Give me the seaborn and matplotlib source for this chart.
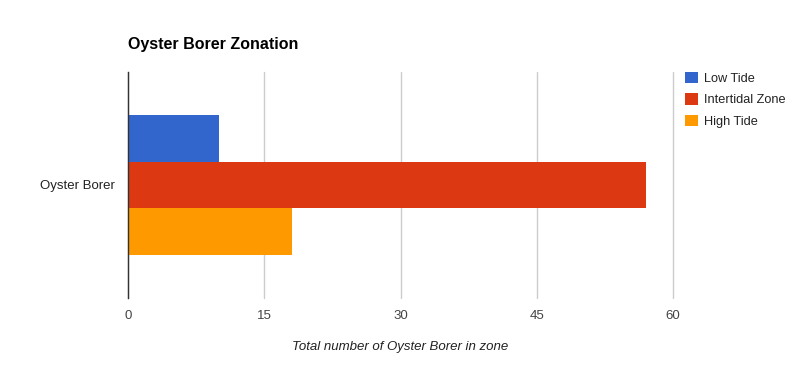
import matplotlib
matplotlib.use("Agg")
import matplotlib.pyplot as plt
import seaborn as sns
import pandas as pd
from matplotlib.patches import Patch

categories = ["Oyster Borer"]
series = ["Low Tide", "Intertidal Zone", "High Tide"]
values = [10, 57, 18]
colors = ["#3366cc", "#dc3912", "#ff9900"]
xticks = [0, 15, 30, 45, 60]

sns.set_style("white")
plt.rcParams["font.family"] = ["Liberation Sans", "DejaVu Sans"]

df = pd.DataFrame({"category": categories * len(series), "series": series, "value": values})

fig = plt.figure(figsize=(8, 3.71), dpi=100)
ax = fig.add_axes([128 / 800, 1 - 298 / 371, 545 / 800, 226 / 371])
sns.barplot(data=df, y="category", x="value", hue="series", hue_order=series,
            palette=colors, width=0.62, orient="h", ax=ax, legend=False,
            saturation=1, linewidth=0)
ax.set_xlim(0, 60)
ax.set_ylim(0.5, -0.5)
ax.set_xticks(xticks)
ax.set_xticklabels([str(t) for t in xticks])
ax.grid(axis="x", color="#cccccc", linewidth=1)
for gl in ax.get_xgridlines():
    gl.set_clip_on(False)
ax.set_axisbelow(True)
for s in ["top", "right", "bottom"]:
    ax.spines[s].set_visible(False)
ax.spines["left"].set_color("#333333")
ax.spines["left"].set_linewidth(1)
ax.tick_params(axis="both", length=0, labelsize=9.5, colors="#444444", pad=8.5)
ax.tick_params(axis="y", pad=9.5, labelcolor="#222222")
ax.set_ylabel("")
ax.set_xlabel("Total number of Oyster Borer in zone", fontstyle="italic",
              fontsize=9.5, color="#222222", labelpad=14)

fig.text(128 / 800, 1 - 44 / 371, "Oyster Borer Zonation", fontsize=11.5,
         fontweight="bold", color="#000000", va="center", ha="left")

handles = [Patch(facecolor=c, edgecolor="none", label=l) for c, l in zip(colors, series)]
leg = fig.legend(handles=handles, loc="upper left", bbox_to_anchor=(685 / 800, 1 - 72 / 371),
                 frameon=False, fontsize=9.2, handlelength=1.0, handleheight=1.0,
                 handletextpad=0.5, labelspacing=0.65, borderaxespad=0, borderpad=0)
for t in leg.get_texts():
    t.set_color("#222222")

fig.savefig("out.png", dpi=100, facecolor="white")
